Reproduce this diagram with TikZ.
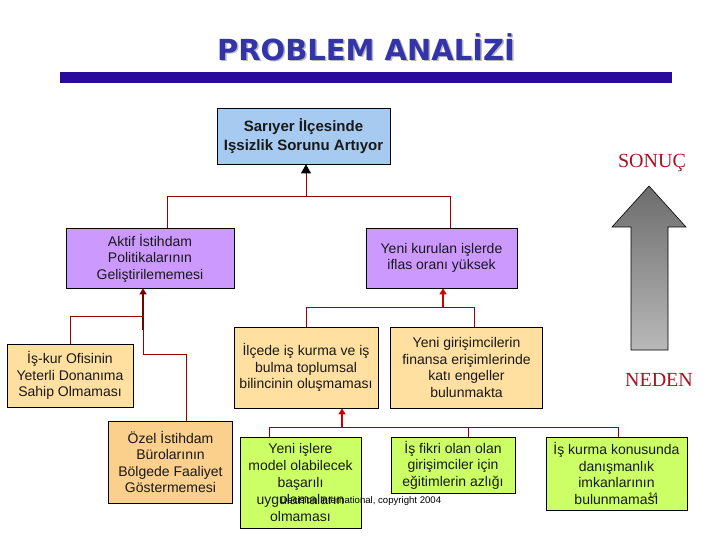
\documentclass[tikz,border=0pt]{standalone}
\usepackage{fontspec}
\setmainfont{Liberation Sans}
\newfontfamily\titlefont{DejaVu Sans}
\newfontfamily\redserif{Liberation Serif}
\usetikzlibrary{arrows.meta,shadings}
\definecolor{titleblue}{HTML}{3333AA}
\definecolor{barblue}{HTML}{2A0A9C}
\definecolor{boxblue}{HTML}{A6CAF0}
\definecolor{boxpurple}{HTML}{CC99FF}
\definecolor{boxorange}{HTML}{FFE0A0}
\definecolor{boxorangeb}{HTML}{FAD08C}
\definecolor{boxgreen}{HTML}{CCFF66}
\definecolor{linered}{HTML}{990000}
\definecolor{arrred}{HTML}{CC0000}
\definecolor{wordred}{HTML}{AA1122}
\begin{document}
\begin{tikzpicture}[x=1pt,y=-1pt,
  box/.style={draw=black,line width=0.8pt,inner sep=0pt,align=center,
    font=\fontsize{14}{16.5}\selectfont,text=black!90},
  conn/.style={draw=linered,line width=0.8pt},
  arrup/.style={draw=arrred,line width=2pt,-{Triangle[width=7pt,length=6pt]}},
  arrtop/.style={draw=linered,line width=0.8pt,-{Triangle[width=10pt,length=9pt,color=black]}},
  bigword/.style={font=\redserif\fontsize{20}{22}\selectfont,text=wordred}]
\useasboundingbox (0,0) rectangle (720,540);
\fill[white] (0,0) rectangle (720,540);
% title
\node[font=\titlefont\bfseries\fontsize{29}{32}\selectfont,text=gray!55] at (367.5,48.5) {PROBLEM ANALİZİ};
\node (title) [font=\titlefont\bfseries\fontsize{29}{32}\selectfont,text=titleblue] at (366,47) {PROBLEM ANALİZİ};
\fill[barblue] (60,72) rectangle (672,83);
% boxes
\node (top) [box,fill=boxblue,minimum width=173pt,minimum height=56pt,font=\bfseries\fontsize{15}{19}\selectfont] at (303.5,136) {Sarıyer İlçesinde\\Işsizlik Sorunu Artıyor};
\node (aktif) [box,fill=boxpurple,minimum width=168pt,minimum height=60pt] at (150,258) {Aktif İstihdam\\Politikalarının\\Geliştirilememesi};
\node (yenik) [box,fill=boxpurple,minimum width=151pt,minimum height=60pt] at (441.5,258) {Yeni kurulan işlerde\\iflas oranı yüksek};
\node (iskur) [box,fill=boxorange,minimum width=126pt,minimum height=63pt] at (70,375.5) {İş-kur Ofisinin\\Yeterli Donanıma\\Sahip Olmaması};
\node (ozel) [box,fill=boxorangeb,minimum width=124pt,minimum height=82pt] at (170.5,462) {Özel İstihdam\\Bürolarının\\Bölgede Faaliyet\\Göstermemesi};
\node (ilcede) [box,fill=boxorange,minimum width=144pt,minimum height=81pt] at (306,367.5) {İlçede iş kurma ve iş\\bulma toplumsal\\bilincinin oluşmaması};
\node (girisim) [box,fill=boxorange,minimum width=152pt,minimum height=81pt] at (466.5,367.5) {Yeni girişimcilerin\\finansa erişimlerinde\\katı engeller\\bulunmakta};
\node (yenii) [box,fill=boxgreen,minimum width=121pt,minimum height=91pt,font=\fontsize{14}{17}\selectfont] at (300.5,482.5) {Yeni işlere\\model olabilecek\\başarılı\\uygulamaların\\olmaması};
\node (isfikri) [box,fill=boxgreen,minimum width=124pt,minimum height=56pt] at (453,465) {İş fikri olan olan\\girişimciler için\\eğitimlerin azlığı};
\node (iskurma) [box,fill=boxgreen,minimum width=141pt,minimum height=73pt] at (616.5,473.5) {İş kurma konusunda\\danışmanlık\\imkanlarının\\bulunmaması};
% connectors level 1
\coordinate (j0) at (306,196);
\coordinate (j0l) at (167,196);
\coordinate (j0r) at (450,196);
\draw[conn] (j0l |- aktif.north) -- (j0l) -- (j0r) -- (j0r |- yenik.north);
\draw[arrtop] (j0) -- (j0 |- top.south);
% aktif group
\coordinate (j1) at (143,316);
\coordinate (j1b) at (186,354);
\draw[conn] (iskur.north) |- (j1);
\draw[conn] (j1) -- (j1 |- j1b) -- (j1b) -- (j1b |- ozel.north);
\draw[conn] (j1) -- ++(0,-14);
\draw[arrup,draw=linered!80!black] ([yshift=-14pt]j1) -- (j1 |- aktif.south);
% yeni kurulan group
\coordinate (j2) at (443,307);
\coordinate (j2r) at (474,307);
\draw[conn] (ilcede.north) |- (j2r) -- (j2r |- girisim.north);
\draw[arrup] (j2) -- (j2 |- yenik.south);
% ilcede group
\coordinate (j3) at (342,427);
\coordinate (j3l) at (269,427);
\coordinate (j3m) at (468,427);
\coordinate (j3r) at (618,427);
\draw[conn] (j3l |- yenii.north) -- (j3l) -- (j3r) -- (j3r |- iskurma.north);
\draw[conn] (j3m) -- (j3m |- isfikri.north);
\draw[arrup] (j3) -- (j3 |- ilcede.south);
% big gray arrow
\shade[top color=gray!85!black,bottom color=gray!55,draw=black,line width=0.6pt]
  (649,186) -- (686,227) -- (668,227) -- (668,350) -- (631,350) -- (631,227) -- (612,227) -- cycle;
\node (sonuc) [bigword] at (652,163) {SONUÇ};
\node (neden) [bigword] at (659,380) {NEDEN};
% watermark and page number
\node (wm) [font=\fontsize{9.6}{10}\selectfont,text=black,anchor=west] at (277,501) {Decision International, copyright 2004};
\node (pg) [font=\fontsize{8}{9}\selectfont,text=black] at (653,496) {14};
\end{tikzpicture}
\end{document}
